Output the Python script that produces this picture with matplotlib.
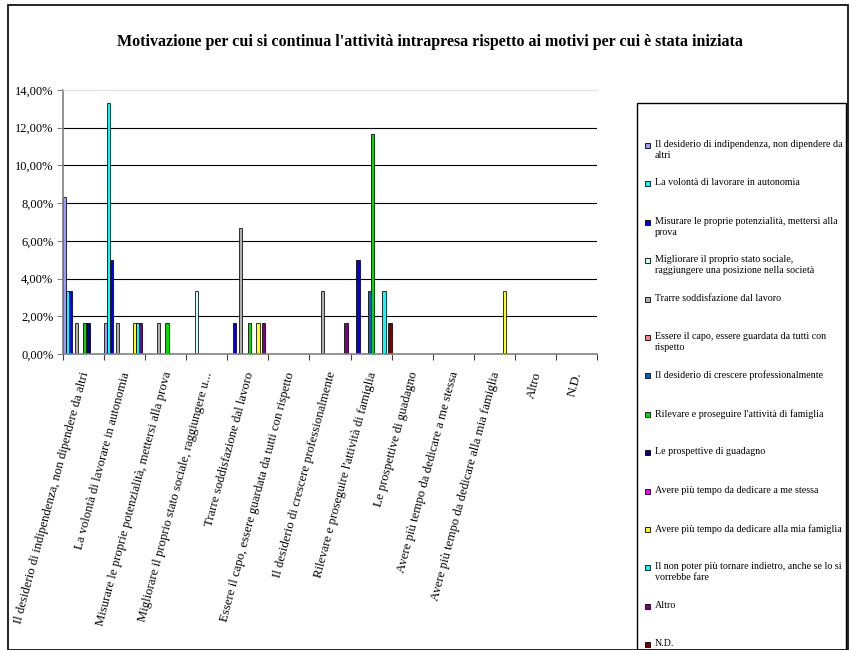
import matplotlib.pyplot as plt
import matplotlib
from matplotlib.patches import Rectangle
from matplotlib.ticker import FuncFormatter
import numpy as np

matplotlib.rcParams["font.family"] = ["Liberation Serif", "DejaVu Serif"]

categorie = [
    "Il desiderio di indipendenza, non dipendere da altri",
    "La volontà di lavorare in autonomia",
    "Misurare le proprie potenzialità, mettersi alla prova",
    "Migliorare il proprio stato sociale, raggiungere u...",
    "Trarre soddisfazione dal lavoro",
    "Essere il capo, essere guardata da tutti con rispetto",
    "Il desiderio di crescere professionalmente",
    "Rilevare e proseguire l'attività di famiglia",
    "Le prospettive di guadagno",
    "Avere più tempo da dedicare a me stessa",
    "Avere più tempo da dedicare alla mia famiglia",
    "Altro",
    "N.D.",
]

# etichette della legenda (gia' spezzate come nel grafico)
serie = [
    "Il desiderio di indipendenza, non dipendere da\naltri",
    "La volontà di lavorare in autonomia",
    "Misurare le proprie potenzialità, mettersi alla\nprova",
    "Migliorare il proprio stato sociale,\nraggiungere una posizione nella società",
    "Trarre soddisfazione dal lavoro",
    "Essere il capo, essere guardata da tutti con\nrispetto",
    "Il desiderio di crescere professionalmente",
    "Rilevare e proseguire l'attività di famiglia",
    "Le prospettive di guadagno",
    "Avere più tempo da dedicare a me stessa",
    "Avere più tempo da dedicare alla mia famiglia",
    "Il non poter più tornare indietro, anche se lo si\nvorrebbe fare",
    "Altro",
    "N.D.",
]

colori = ["#9999FF", "#00FFFF", "#0000EE", "#CCFFFF", "#B0B0B0", "#FF8080",
          "#0066CC", "#00DD00", "#000080", "#FF00FF", "#FFFF00", "#00FFFF",
          "#800080", "#800000"]

# percentuali per categoria (13 valori per serie)
indipendenza = [8.33, 1.67, 0, 0, 0, 0, 0, 0, 0, 0, 0, 0, 0]
autonomia    = [3.33, 13.33, 0, 0, 0, 0, 0, 0, 0, 0, 0, 0, 0]
potenzialita = [3.33, 5.00, 0, 0, 1.67, 0, 0, 5.00, 0, 0, 0, 0, 0]
stato_soc    = [0, 0, 0, 3.33, 0, 0, 0, 0, 0, 0, 0, 0, 0]
soddisfaz    = [1.67, 1.67, 1.67, 0, 6.67, 0, 3.33, 0, 0, 0, 0, 0, 0]
capo         = [0, 0, 0, 0, 0, 0, 0, 0, 0, 0, 0, 0, 0]
crescere     = [0, 0, 0, 0, 0, 0, 0, 3.33, 0, 0, 0, 0, 0]
famiglia_att = [1.67, 0, 1.67, 0, 1.67, 0, 0, 11.67, 0, 0, 0, 0, 0]
guadagno     = [1.67, 0, 0, 0, 0, 0, 0, 0, 0, 0, 0, 0, 0]
me_stessa    = [0, 0, 0, 0, 0, 0, 0, 0, 0, 0, 0, 0, 0]
mia_famiglia = [0, 1.67, 0, 0, 1.67, 0, 0, 0, 0, 0, 3.33, 0, 0]
non_tornare  = [0, 1.67, 0, 0, 0, 0, 0, 3.33, 0, 0, 0, 0, 0]
altro        = [0, 1.67, 0, 0, 1.67, 0, 1.67, 0, 0, 0, 0, 0, 0]
nd           = [0, 0, 0, 0, 0, 0, 0, 1.67, 0, 0, 0, 0, 0]

valori = [indipendenza, autonomia, potenzialita, stato_soc, soddisfaz, capo,
          crescere, famiglia_att, guadagno, me_stessa, mia_famiglia,
          non_tornare, altro, nd]

W, H = 852, 650
fig = plt.figure(figsize=(W / 100, H / 100), dpi=100)

# bordo esterno del grafico
fig.patches.append(Rectangle((8 / W, 0), 840 / W, 1 - 5 / H, transform=fig.transFigure,
                             fill=False, edgecolor="black", linewidth=1.2))

ax = fig.add_axes([63 / W, 1 - 354 / H, 534 / W, 264 / H])

n = len(valori)
passo = 1.0 / (n + 0.2)
larg = 1.0 / 12.5
x = np.arange(len(categorie))
for i, (v, c) in enumerate(zip(valori, colori)):
    pos = x + 0.5 + (i - (n - 1) / 2) * passo
    ax.bar(pos, v, width=larg, color=c, edgecolor="black", linewidth=0.55)

ax.set_xlim(0, len(categorie))
ax.set_ylim(0, 14)
ax.set_yticks(np.arange(0, 15, 2))
ax.yaxis.set_major_formatter(FuncFormatter(lambda v, p: ("%.2f%%" % v).replace(".", ",")))
ax.tick_params(axis="y", labelsize=9, length=4, width=0.8, color="#808080", pad=3)
ax.set_xticks(np.arange(0, len(categorie) + 1))
ax.set_xticklabels([])
ax.tick_params(axis="x", length=4, width=0.8, color="#404040", direction="out")

for g in range(2, 14, 2):
    ax.axhline(g, color="black", linewidth=0.8, zorder=0)

ax.spines["right"].set_visible(False)
ax.spines["top"].set_color("#E0E0E0")
ax.spines["left"].set_color("#808080")
ax.spines["bottom"].set_color("#808080")
ax.spines["left"].set_linewidth(1.2)
ax.spines["bottom"].set_linewidth(1.2)

# etichette delle categorie, ruotate
for k, lab in enumerate(categorie):
    ax.text(k + 0.55, -18 / 264, lab, transform=ax.get_xaxis_transform(),
            rotation=75, rotation_mode="anchor", ha="right", va="center", fontsize=9.2)

fig.text(430 / W, 1 - 42 / H,
         "Motivazione per cui si continua l'attività intrapresa rispetto ai motivi per cui è stata iniziata",
         ha="center", va="center", fontsize=11.5, fontweight="bold")

# legenda
fig.patches.append(Rectangle((637 / W, 0), 209 / W, 1 - 103 / H, transform=fig.transFigure,
                             fill=False, edgecolor="black", linewidth=1.0))
for k, (lab, c) in enumerate(zip(serie, colori)):
    ytop = 145 + k * 38.4
    fig.patches.append(Rectangle((645 / W, 1 - (ytop + 3) / H), 5 / W, 5 / H,
                                 transform=fig.transFigure, facecolor=c,
                                 edgecolor="black", linewidth=0.6))
    fig.text(655 / W, 1 - (ytop - 5) / H, lab, ha="left", va="top", fontsize=7.2,
             linespacing=1.3)

fig.savefig("out.png", dpi=100)
